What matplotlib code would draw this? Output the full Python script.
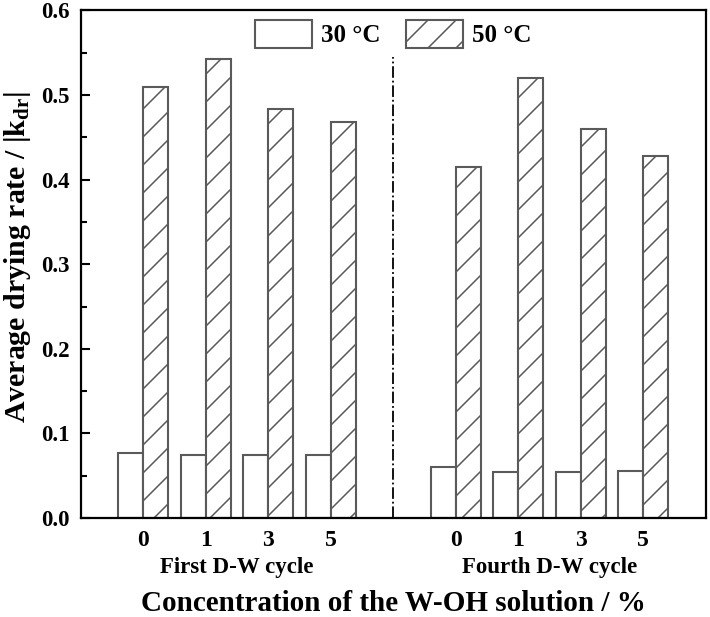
import matplotlib
matplotlib.use("Agg")
import matplotlib.pyplot as plt
from matplotlib.patches import Patch
from matplotlib.ticker import MultipleLocator
import numpy as np

# ---- data ----
concentrations = ['0', '1', '3', '5']
cycles = ['First D-W cycle', 'Fourth D-W cycle']
temps = ['30 °C', '50 °C']
rate_30_first = [0.077, 0.075, 0.075, 0.075]
rate_50_first = [0.509, 0.543, 0.483, 0.468]
rate_30_fourth = [0.060, 0.054, 0.054, 0.055]
rate_50_fourth = [0.415, 0.520, 0.460, 0.428]

DPI = 84
S = 100.0 / DPI  # keep sizes as if at 100 dpi


def pt(v):
    return v * S


plt.rcParams['font.family'] = ['Liberation Serif', 'DejaVu Serif']
plt.rcParams['font.weight'] = 'bold'
plt.rcParams['mathtext.fontset'] = 'custom'
plt.rcParams['mathtext.rm'] = 'Liberation Serif:bold'
plt.rcParams['mathtext.bf'] = 'Liberation Serif:bold'
plt.rcParams['mathtext.it'] = 'Liberation Serif:bold'
plt.rcParams['hatch.linewidth'] = pt(1.1)

edge = '#5a5a5a'

fig = plt.figure(figsize=(710 / DPI, 617 / DPI), dpi=DPI)
ax = fig.add_axes([0.114, 0.1605, 0.8797, 0.8225])

pos_first = np.arange(4)
pos_fourth = np.arange(4) + 5
w = 0.4

for pos, r30, r50 in [(pos_first, rate_30_first, rate_50_first),
                      (pos_fourth, rate_30_fourth, rate_50_fourth)]:
    ax.bar(pos - w / 2, r30, width=w, facecolor='white', edgecolor=edge, linewidth=pt(1.5))
    ax.bar(pos + w / 2, r50, width=w, facecolor='white', edgecolor=edge, linewidth=pt(1.5), hatch='/')

# divider
ax.plot([4, 4], [0, 0.545], color='black', linestyle='-.', linewidth=pt(1.3))

ax.set_xlim(-1, 9)
ax.set_ylim(0, 0.6)
ax.yaxis.set_major_locator(MultipleLocator(0.1))
ax.yaxis.set_minor_locator(MultipleLocator(0.05))
ax.set_yticklabels([f'{v:.1f}' for v in ax.get_yticks()])
ax.set_xticks(np.concatenate([pos_first, pos_fourth]))
ax.set_xticklabels(concentrations + concentrations)
ax.tick_params(axis='y', which='major', direction='in', length=pt(6.5), width=pt(1.5), labelsize=pt(16.5), pad=pt(8))
ax.tick_params(axis='y', which='minor', direction='in', length=pt(4), width=pt(1.5))
ax.tick_params(axis='x', length=0, labelsize=pt(17), pad=pt(9))
for s in ax.spines.values():
    s.set_linewidth(pt(1.6))

trans = ax.get_xaxis_transform()
ax.text(pos_first.mean(), -0.0985, cycles[0], transform=trans, ha='center', va='center', fontsize=pt(16.5), fontweight='bold')
ax.text(pos_fourth.mean(), -0.0985, cycles[1], transform=trans, ha='center', va='center', fontsize=pt(16.5), fontweight='bold')

ax.set_xlabel('Concentration of the W-OH solution / %', fontsize=pt(21), fontweight='bold')
ax.xaxis.set_label_coords(0.5, -0.142)
ax.set_ylabel('Average drying rate / |k$_{\\mathrm{dr}}$|', fontsize=pt(21.5), fontweight='bold')
ax.yaxis.set_label_coords(-0.077, 0.514)

handles = [Patch(facecolor='white', edgecolor=edge, linewidth=pt(1.5)),
           Patch(facecolor='white', edgecolor=edge, linewidth=pt(1.5), hatch='/')]
ax.legend(handles, temps, loc='upper center', ncol=2, frameon=False,
          handlelength=2.3, handleheight=1.3, handletextpad=0.35, columnspacing=1.0,
          borderaxespad=0.0, prop={'weight': 'bold', 'size': pt(18)})

fig.savefig('out.png', dpi=DPI)
